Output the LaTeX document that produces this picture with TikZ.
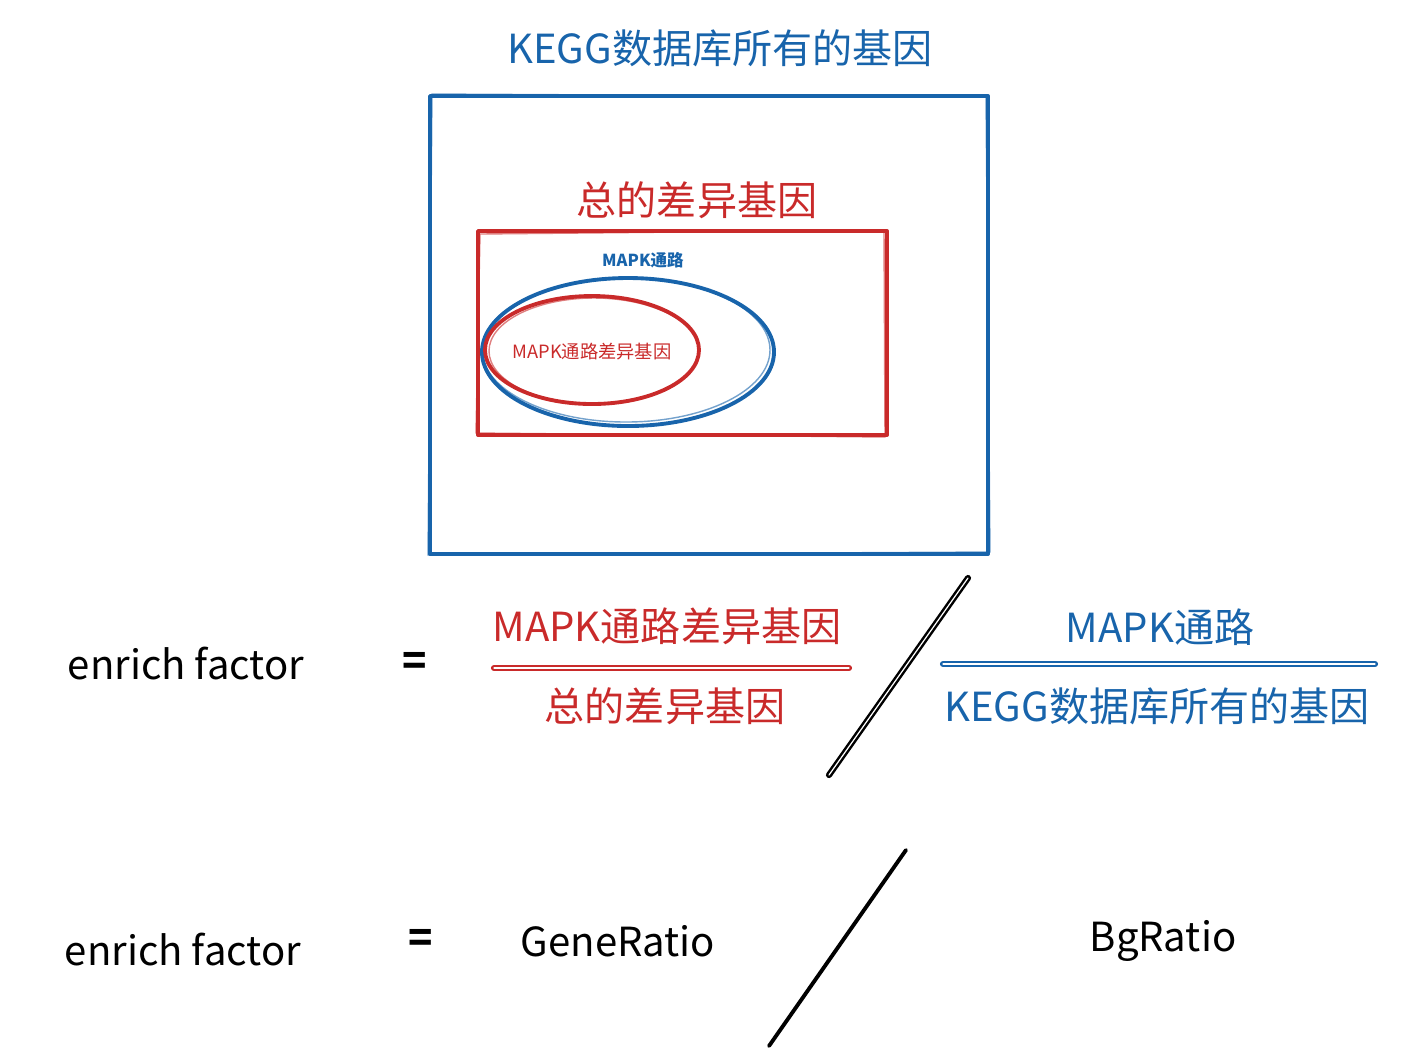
\documentclass[tikz,border=0pt]{standalone}
\usepackage{fontspec}
\setmainfont{Noto Sans CJK SC}
\usetikzlibrary{positioning}

\definecolor{keggblue}{HTML}{1864AB}
\definecolor{degred}{HTML}{C92A2A}
\tikzstyle{big} = [inner sep=0pt, font=\fontsize{11.4}{13}\selectfont]
\tikzstyle{small} = [inner sep=0pt, font=\fontsize{5.2}{6}\selectfont]
\tikzstyle{hand} = [line width=1.1pt, line cap=round, line join=round]

\begin{document}
\begin{tikzpicture}[x=0.01cm, y=-0.01cm,
			blue/.style={big, text=keggblue},
			red/.style={big, text=degred},
			black/.style={big, text=black},
			bar/.style={line width=0.7pt, line cap=round, double distance=0.35pt}]
			\useasboundingbox (0,0) rectangle (1426,1056);

			% Venn part
			\node (kegg title) [blue] at (720,48) {KEGG数据库所有的基因};
			\draw [hand, keggblue] (430,96) rectangle (988,554);
			\draw [keggblue, opacity=.6] (432,94) -- (986,97) -- (990,552) -- (428,555) -- cycle;
			\node (deg title) [red] at (697,200) {总的差异基因};
			\draw [hand, degred] (478,231) rectangle (887,435);
			\draw [degred, opacity=.6] (480,234) -- (884,230) -- (885,437) -- (476,433) -- cycle;
			\node (mapk) [small, text=keggblue, font=\fontsize{4.7}{6}\selectfont\bfseries] at (643,260) {MAPK通路};
			\draw [hand, keggblue] (628,352) ellipse (146 and 74);
			\draw [keggblue, opacity=.6] (626,350) ellipse (144 and 72);
			\draw [hand, degred] (592,350) ellipse (107 and 54);
			\draw [degred, opacity=.6] (594,351) ellipse (105 and 53);
			\node (mapk deg) [small, text=degred] at (592,352) {MAPK通路差异基因};

			% first formula
			\node (ef1) [black] at (186,664) {enrich factor};
			\node (eq1) [black, font=\fontsize{11.4}{13}\selectfont\bfseries] at (415,664) {=};
			\node (num1) [red] at (667,626) {MAPK通路差异基因};
			\node (den1) [red] at (665,706) {总的差异基因};
			\coordinate (bar1 l) at (494,668);
			\coordinate (bar1 r) at (849,668);
			\draw [bar, degred] (bar1 l) -- (bar1 r);
			\coordinate (slash1 t) at (968,578);
			\coordinate (slash1 b) at (829,775);
			\draw [bar, black] (slash1 t) -- (slash1 b);
			\node (num2) [blue] at (1160,627) {MAPK通路};
			\node (den2) [blue] at (1157,706) {KEGG数据库所有的基因};
			\coordinate (bar2 l) at (943,664);
			\coordinate (bar2 r) at (1375,664);
			\draw [bar, keggblue] (bar2 l) -- (bar2 r);

			% second formula
			\node (ef2) [black] at (183,950) {enrich factor};
			\node (eq2) [black, font=\fontsize{11.4}{13}\selectfont\bfseries] at (421,941) {=};
			\node (gr) [black] at (618,941) {GeneRatio};
			\coordinate (slash2 t) at (906,850);
			\coordinate (slash2 b) at (769,1046);
			\draw [hand, black] (slash2 t) -- (slash2 b);
			\node (bg) [black] at (1163,941) {BgRatio};
		\end{tikzpicture}
\end{document}
